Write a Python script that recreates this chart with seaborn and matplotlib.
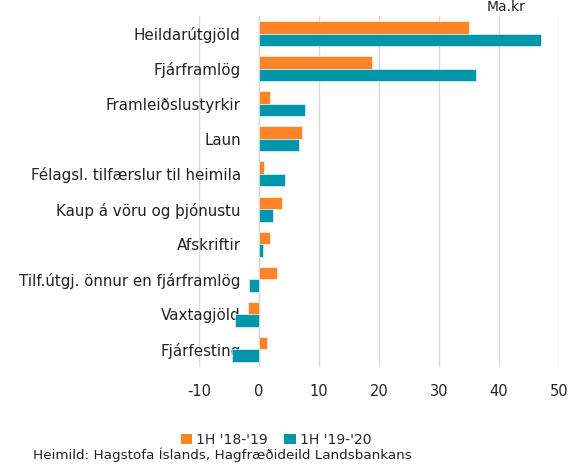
import matplotlib
matplotlib.use("Agg")
import matplotlib.pyplot as plt
import seaborn as sns
import pandas as pd
from matplotlib.patches import Patch

categories = ["Heildarútgjöld", "Fjárframlög", "Framleiðslustyrkir", "Laun",
              "Félagsl. tilfærslur til heimila", "Kaup á vöru og þjónustu",
              "Afskriftir", "Tilf.útgj. önnur en fjárframlög", "Vaxtagjöld", "Fjárfesting"]
series_names = ["1H '18-'19", "1H '19-'20"]
values_1819 = [35.0, 18.8, 1.9, 7.1, 0.8, 3.9, 1.9, 3.0, -1.9, 1.3]
values_1920 = [47.0, 36.2, 7.6, 6.6, 4.3, 2.3, 0.7, -1.6, -4.0, -4.5]
colors = ["#FF8427", "#0096AA"]
xticks = [-10, 0, 10, 20, 30, 40, 50]

df = pd.DataFrame({
    "cat": categories * 2,
    "val": values_1819 + values_1920,
    "series": [series_names[0]] * len(categories) + [series_names[1]] * len(categories),
})

sns.set_style("white")
plt.rcParams["font.family"] = ["DejaVu Sans"]

fig = plt.figure(figsize=(5.8, 4.66), dpi=100)
ax = fig.add_axes([199 / 580, 1 - 367 / 466, 360 / 580, 351 / 466])
sns.barplot(data=df, y="cat", x="val", hue="series", order=categories,
            hue_order=series_names, palette=colors, saturation=1, orient="h", width=0.71,
            edgecolor="white", linewidth=0.4, ax=ax, legend=False)

ax.set_xlim(-10, 50)
ax.set_xticks(xticks)
ax.set_xticklabels([str(t) for t in xticks])
ax.set_xlabel("")
ax.set_ylabel("")
ax.grid(axis="x", color="#d9d9d9", linewidth=1)
ax.set_axisbelow(True)
for s in ax.spines.values():
    s.set_visible(False)
ax.axvline(0, color="#d9d9d9", linewidth=1, zorder=0)
ax.tick_params(axis="y", length=0, pad=-30, labelsize=10.9, labelcolor="#222222")
ax.tick_params(axis="x", length=0, pad=12, labelsize=10.5, labelcolor="#222222")
for lab in ax.get_yticklabels():
    lab.set_horizontalalignment("right")

fig.text(525 / 580, 1 - 7 / 466, "Ma.kr", ha="right", va="center", fontsize=10, color="#222222")

handles = [Patch(facecolor=c, edgecolor="none") for c in colors]
fig.legend(handles, series_names, loc="center", bbox_to_anchor=(276 / 580, 1 - 440 / 466),
           ncol=2, frameon=False, fontsize=10, handlelength=0.8, handleheight=0.8,
           handletextpad=0.3, columnspacing=1.2, borderpad=0)
fig.text(33 / 580, 1 - 455 / 466, "Heimild: Hagstofa Íslands, Hagfræðideild Landsbankans",
         ha="left", va="center", fontsize=9.7, color="#222222")

fig.savefig("out.png", dpi=100)
